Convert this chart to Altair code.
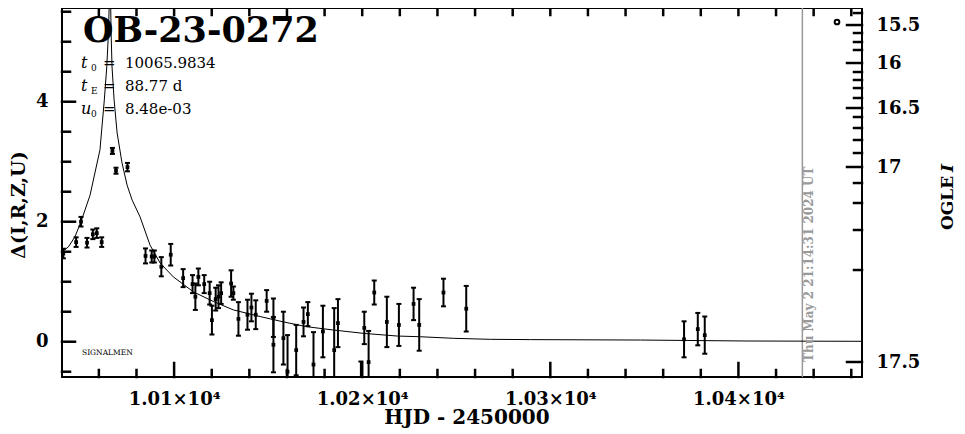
import altair as alt
import pandas as pd

SERIF = "DejaVu Serif"

# ---------------- values ----------------
obs_hjd = [10041.1, 10047.9, 10050.5, 10053.7, 10056.8, 10058.9, 10061.5, 10067.2, 10069.1, 10075.2,
           10084.8, 10088.1, 10089.5, 10093.2, 10098.2, 10104.8, 10109.8, 10111.3, 10112.9, 10116.0,
           10118.9, 10120.1, 10122.1, 10123.6, 10125.0, 10130.3, 10131.5, 10134.2, 10139.0, 10141.1,
           10143.4, 10149.2, 10152.8, 10152.8, 10158.1, 10160.3, 10164.9, 10168.8, 10171.1, 10174.1,
           10179.1, 10185.1, 10187.1, 10199.3, 10201.1, 10203.4, 10206.4, 10213.1, 10219.5, 10227.3,
           10230.3, 10243.2, 10255.3, 10371.1, 10378.4, 10382.1]
obs_delta = [1.47, 1.66, 2.00, 1.65, 1.79, 1.81, 1.66, 3.18, 2.85, 2.91,
             1.43, 1.42, 1.42, 1.25, 1.45, 1.06, 0.96, 0.75, 1.08, 0.96,
             0.81, 0.36, 0.71, 0.75, 0.81, 0.97, 0.81, 0.38, 0.45, 0.57,
             0.45, 0.68, 0.40, -0.05, 0.06, -0.50, -0.14, 0.33, 0.46, -0.38,
             0.17, -0.14, 0.31, -0.68, 0.23, -0.34, 0.82, 0.33, 0.28, 0.63,
             0.28, 0.82, 0.55, 0.04, 0.21, 0.11]
obs_err = [0.08, 0.08, 0.08, 0.08, 0.08, 0.08, 0.08, 0.05, 0.05, 0.07,
           0.125, 0.10, 0.10, 0.16, 0.18, 0.15, 0.15, 0.22, 0.14, 0.15,
           0.19, 0.24, 0.19, 0.19, 0.18, 0.22, 0.11, 0.28, 0.25, 0.23,
           0.24, 0.18, 0.32, 0.46, 0.44, 0.61, 0.42, 0.24, 0.20, 0.54,
           0.43, 0.70, 0.40, 0.35, 0.27, 0.52, 0.20, 0.42, 0.35, 0.27,
           0.43, 0.23, 0.38, 0.30, 0.27, 0.31]

model_hjd = [10040.4, 10043.8, 10047.3, 10050.5, 10055.3, 10060.6, 10061.5, 10062.9, 10064.2, 10065.1,
             10066.0, 10066.5, 10067.0, 10068.1, 10069.7, 10072.3, 10075.0, 10077.7, 10081.9, 10087.2,
             10092.6, 10099.6, 10110.3, 10120.9, 10131.5, 10145.7, 10158.1, 10170.6, 10184.7, 10200.5,
             10218.5, 10230.9, 10248.4, 10268.1, 10289.4, 10347.9, 10404.6, 10466.0]
model_delta = [1.50, 1.58, 1.75, 2.00, 2.44, 3.20, 3.53, 4.03, 4.58, 5.15,
               6.20, 5.15, 4.58, 4.03, 3.48, 2.98, 2.61, 2.36, 2.08, 1.61,
               1.31, 1.08, 0.83, 0.67, 0.53, 0.42, 0.33, 0.25, 0.195, 0.14,
               0.095, 0.083, 0.057, 0.04, 0.035, 0.028, 0.012, 0.007]

x_domain = [10040.4, 10465.7]
y_domain = [-0.588, 5.562]
x_major_ticks = [10100, 10200, 10300, 10400]
x_minor_ticks = [10060, 10080, 10120, 10140, 10160, 10180, 10220, 10240, 10260, 10280,
                 10320, 10340, 10360, 10380, 10420, 10440, 10460]
x_top_ticks = [10060, 10080, 10100, 10120, 10140, 10160, 10180, 10200, 10220, 10240, 10260,
               10280, 10300, 10320, 10340, 10360, 10380, 10400, 10420, 10440, 10460]
y_major_ticks = [0, 2, 4]
y_minor_ticks = [-0.5, 0.5, 1, 1.5, 2.5, 3, 3.5, 4.5, 5, 5.5]
mag_tick_labels = ["15.5", "16", "16.5", "17", "17.5"]
mag_tick_pos = [5.278, 4.645, 3.895, 2.912, -0.338]
mag_minor_pos = [5.478, 5.145, 4.995, 4.862, 4.495, 4.362, 4.228, 4.062,
                 3.745, 3.562, 3.362, 3.145, 2.645, 2.312, 1.862, 1.195]
now_hjd = [10434.0]

title_text = "OB-23-0272"
param_symbols = ["t", "t", "u"]
param_subscripts = ["0", "E", "0"]
param_values = ["10065.9834", "88.77 d", "8.48e-03"]
date_text = "Thu May  2 21:14:31 2024 UT"
footer_text = "SIGNALMEN"
y_title = "Δ(I,R,Z,U)"
x_title = "HJD - 2450000"
right_title = ["OGLE", "I"]

# ---------------- chart ----------------
W, H = 800, 369
xs = alt.Scale(domain=x_domain, nice=False, zero=False)
ys = alt.Scale(domain=y_domain, nice=False, zero=False)
px_x = (x_domain[1] - x_domain[0]) / W   # data units per pixel
px_y = (y_domain[1] - y_domain[0]) / H


def ax(**kw):
    base = dict(grid=False, domain=False, ticks=False, tickSize=0, title=None, labelFont=SERIF,
                labelColor="black", labelFontWeight="bold", labelFontSize=18)
    base.update(kw)
    return alt.Axis(**base)


mag_expr = "".join(f"abs(datum.value - ({p})) < 0.0005 ? '{l}' : "
                   for p, l in zip(mag_tick_pos, mag_tick_labels)) + "''"

ax_x = ax(orient="bottom", values=x_major_ticks, labelPadding=13,
          labelExpr="format(datum.value / 10000, '.2f') + '×10⁴'")
ax_y = ax(orient="left", values=y_major_ticks, labelPadding=14)
ax_m = ax(orient="right", values=mag_tick_pos, labelPadding=14, labelExpr=mag_expr, labelAlign="left")

obs = pd.DataFrame({"hjd": obs_hjd, "delta": obs_delta, "err": obs_err})
obs["lo"] = obs["delta"] - obs["err"]
obs["hi"] = obs["delta"] + obs["err"]
obs["cap0"] = obs["hjd"] - 2.5 * px_x
obs["cap1"] = obs["hjd"] + 2.5 * px_x
model = pd.DataFrame({"hjd": model_hjd, "delta": model_delta})

# frame ticks (inward), all in one table: segment from (tx0, ty0) to (tx1, ty1) in data units
tick_rows = []
for vals, length, side in [(y_major_ticks, 13, "left"), (y_minor_ticks, 8, "left"),
                           (mag_tick_pos, 15, "right"), (mag_minor_pos, 8, "right"),
                           (x_major_ticks, 14, "bottom"), (x_minor_ticks, 7, "bottom"),
                           (x_top_ticks, 7, "top")]:
    for v in vals:
        if side == "left":
            tick_rows.append((x_domain[0], v, x_domain[0] + length * px_x, v))
        elif side == "right":
            tick_rows.append((x_domain[1] - length * px_x, v, x_domain[1], v))
        elif side == "bottom":
            tick_rows.append((v, y_domain[0], v, y_domain[0] + length * px_y))
        else:
            tick_rows.append((v, y_domain[1] - length * px_y, v, y_domain[1]))
ticks_df = pd.DataFrame(tick_rows, columns=["tx0", "ty0", "tx1", "ty1"])

frame_ticks = alt.Chart(ticks_df).mark_rule(color="#000000", strokeWidth=2.5, opacity=1,
                                            strokeCap="square").encode(
    x=alt.X("tx0:Q", scale=xs, axis=None), x2="tx1:Q",
    y=alt.Y("ty0:Q", scale=ys, axis=None), y2="ty1:Q",
)

now_layer = alt.Chart(pd.DataFrame({"hjd": now_hjd})).mark_rule(
    color="#999999", strokeWidth=1.5).encode(x=alt.X("hjd:Q", scale=xs, axis=None))

curve = alt.Chart(model).mark_line(color="black", strokeWidth=1, clip=True).encode(
    x=alt.X("hjd:Q", scale=xs, axis=ax_x),
    y=alt.Y("delta:Q", scale=ys, axis=ax_y),
)
bars = alt.Chart(obs).mark_rule(color="black", strokeWidth=2, clip=True).encode(
    x=alt.X("hjd:Q", scale=xs, axis=None),
    y=alt.Y("lo:Q", scale=ys, axis=ax_m),
    y2="hi:Q",
)
caps_lo = alt.Chart(obs).mark_rule(color="black", strokeWidth=2, clip=True).encode(
    x=alt.X("cap0:Q", scale=xs, axis=None), x2="cap1:Q",
    y=alt.Y("lo:Q", scale=ys, axis=None),
)
caps_hi = alt.Chart(obs).mark_rule(color="black", strokeWidth=2, clip=True).encode(
    x=alt.X("cap0:Q", scale=xs, axis=None), x2="cap1:Q",
    y=alt.Y("hi:Q", scale=ys, axis=None),
)
pts = alt.Chart(obs).mark_square(color="black", size=14, opacity=1, clip=True).encode(
    x=alt.X("hjd:Q", scale=xs, axis=None),
    y=alt.Y("delta:Q", scale=ys, axis=None),
)


def label(text, x, y, size, weight="normal", style="normal", angle=0, align="left",
          baseline="alphabetic", color="black"):
    return alt.Chart(pd.DataFrame({"t": [text]})).mark_text(
        font=SERIF, fontSize=size, fontWeight=weight, fontStyle=style, angle=angle,
        align=align, baseline=baseline, color=color,
    ).encode(x=alt.value(x), y=alt.value(y), text="t:N")


# annotation positions are in plot-area pixels (plot area starts at page x=62, y=8)
texts = [
    label(title_text, 21, 34, 35, weight="bold"),
    label(footer_text, 20, 347, 7.5),
    label(date_text, 747, 354, 12, weight="bold", angle=270, baseline="middle", color="#999999"),
    label(y_title, -43, 197, 19, weight="bold", angle=270, align="center", baseline="middle"),
    label(x_title, 405, 410, 20, weight="bold", align="center", baseline="middle"),
    label(right_title[0], 886, 222, 17, weight="bold", angle=270, baseline="middle"),
    label(right_title[1], 886, 164, 17, weight="bold", style="italic", angle=270, baseline="middle"),
]
baselines = [60, 83, 106]
for sym, sub, val, yb in zip(param_symbols, param_subscripts, param_values, baselines):
    texts.append(label(sym, 19, yb, 16, style="italic"))
    texts.append(label(sub, 29, yb + 3, 9))
    texts.append(label("=", 41, yb, 15))
    texts.append(label(val, 63, yb, 15))

legend_mark = alt.Chart(pd.DataFrame({"k": ["OGLE"]})).mark_point(
    shape="circle", filled=False, size=22, strokeWidth=2, color="black", opacity=1
).encode(x=alt.value(775), y=alt.value(14))

chart = alt.layer(now_layer, curve, bars, caps_lo, caps_hi, pts, legend_mark, *texts,
                  frame_ticks).resolve_axis(
    x="independent", y="independent"
).properties(
    width=W, height=H,
    padding={"left": 54, "top": 0, "right": 95, "bottom": 56},
    autosize=alt.AutoSizeParams(type="none"),
).configure_view(stroke="black", strokeWidth=2)

chart.save("out.html", embed_options={"renderer": "svg", "actions": False})
